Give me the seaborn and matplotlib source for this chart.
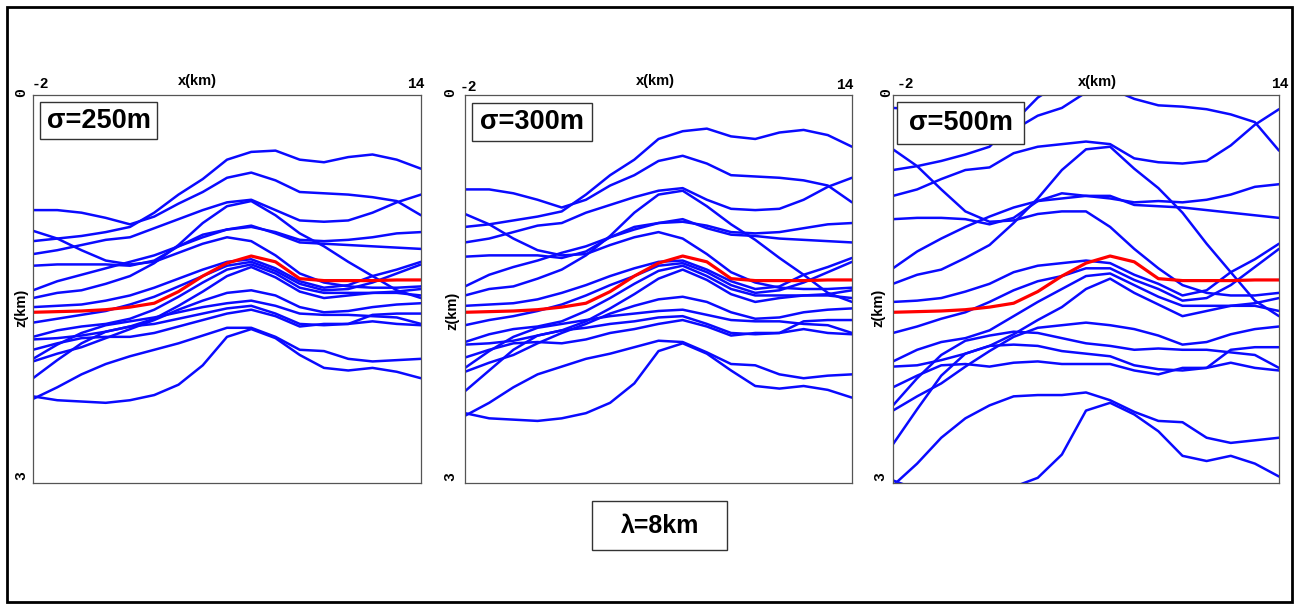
import matplotlib
matplotlib.use("Agg")
import matplotlib.pyplot as plt
from matplotlib.patches import Rectangle
from matplotlib.font_manager import FontProperties
import pandas as pd
import seaborn as sns

sns.set_style("white")
plt.rcParams["font.family"] = ["Liberation Sans", "DejaVu Sans"]
plt.rcParams["text.color"] = "black"

# x positions of the picked points (km)
x_km = [-2, -1, 0, 1, 2, 3, 4, 5, 6, 7, 8, 9, 10, 11, 12, 13, 14]

# true reflector (red), same in every panel
red_z = [1.68, 1.675, 1.67, 1.66, 1.64, 1.61, 1.52, 1.40, 1.30, 1.245, 1.29, 1.42, 1.435, 1.435, 1.435, 1.43, 1.43]

# blue reflectors, depth in km, one list per curve
sigma250 = [
    [1.13, 1.11, 1.09, 1.06, 1.02, 0.91, 0.77, 0.65, 0.50, 0.44, 0.43, 0.50, 0.52, 0.48, 0.46, 0.50, 0.57],
    [0.89, 0.89, 0.91, 0.95, 1.00, 0.94, 0.84, 0.75, 0.64, 0.60, 0.66, 0.75, 0.76, 0.77, 0.79, 0.82, 0.93],
    [1.23, 1.20, 1.16, 1.12, 1.10, 1.03, 0.96, 0.89, 0.83, 0.81, 0.89, 0.97, 0.98, 0.97, 0.91, 0.83, 0.77],
    [1.57, 1.53, 1.51, 1.46, 1.40, 1.30, 1.16, 0.99, 0.86, 0.82, 0.93, 1.07, 1.17, 1.29, 1.40, 1.51, 1.57],
    [1.51, 1.44, 1.39, 1.34, 1.29, 1.24, 1.17, 1.10, 1.04, 1.02, 1.06, 1.12, 1.13, 1.12, 1.10, 1.07, 1.06],
    [1.32, 1.31, 1.31, 1.31, 1.32, 1.28, 1.17, 1.08, 1.04, 1.01, 1.07, 1.14, 1.15, 1.16, 1.17, 1.18, 1.19],
    [1.05, 1.11, 1.20, 1.28, 1.31, 1.29, 1.22, 1.15, 1.10, 1.13, 1.24, 1.38, 1.45, 1.48, 1.49, 1.49, 1.48],
    [1.64, 1.63, 1.62, 1.59, 1.55, 1.49, 1.42, 1.35, 1.29, 1.27, 1.34, 1.44, 1.49, 1.47, 1.40, 1.35, 1.29],
    [1.76, 1.73, 1.70, 1.67, 1.62, 1.56, 1.48, 1.40, 1.32, 1.29, 1.36, 1.46, 1.51, 1.50, 1.45, 1.38, 1.31],
    [1.87, 1.82, 1.79, 1.77, 1.73, 1.66, 1.56, 1.45, 1.35, 1.31, 1.38, 1.49, 1.53, 1.53, 1.53, 1.53, 1.55],
    [1.89, 1.88, 1.86, 1.83, 1.79, 1.73, 1.63, 1.52, 1.40, 1.33, 1.41, 1.52, 1.57, 1.55, 1.53, 1.52, 1.50],
    [2.06, 2.00, 1.95, 1.88, 1.81, 1.74, 1.66, 1.59, 1.53, 1.51, 1.55, 1.64, 1.68, 1.67, 1.64, 1.62, 1.61],
    [2.04, 1.93, 1.84, 1.78, 1.75, 1.72, 1.68, 1.64, 1.61, 1.59, 1.63, 1.69, 1.70, 1.70, 1.71, 1.72, 1.77],
    [2.19, 2.05, 1.92, 1.83, 1.79, 1.77, 1.73, 1.69, 1.65, 1.63, 1.69, 1.77, 1.78, 1.77, 1.70, 1.69, 1.69],
    [1.97, 1.92, 1.88, 1.87, 1.87, 1.84, 1.79, 1.74, 1.69, 1.66, 1.71, 1.79, 1.77, 1.77, 1.75, 1.77, 1.78],
    [2.33, 2.36, 2.37, 2.38, 2.36, 2.32, 2.24, 2.09, 1.87, 1.81, 1.88, 2.01, 2.11, 2.13, 2.11, 2.14, 2.19],
    [2.35, 2.26, 2.16, 2.08, 2.02, 1.97, 1.92, 1.86, 1.80, 1.80, 1.87, 1.97, 1.98, 2.04, 2.06, 2.05, 2.04],
]

sigma300 = [
    [1.02, 1.00, 0.97, 0.94, 0.90, 0.77, 0.62, 0.50, 0.34, 0.28, 0.26, 0.32, 0.34, 0.29, 0.27, 0.31, 0.40],
    [0.73, 0.73, 0.76, 0.81, 0.87, 0.81, 0.70, 0.62, 0.51, 0.47, 0.53, 0.62, 0.63, 0.64, 0.66, 0.70, 0.83],
    [1.14, 1.11, 1.06, 1.01, 0.99, 0.91, 0.85, 0.79, 0.74, 0.72, 0.81, 0.88, 0.89, 0.88, 0.81, 0.71, 0.64],
    [1.55, 1.50, 1.48, 1.42, 1.35, 1.24, 1.09, 0.91, 0.77, 0.74, 0.86, 1.00, 1.12, 1.26, 1.39, 1.53, 1.60],
    [1.48, 1.39, 1.33, 1.28, 1.22, 1.17, 1.10, 1.04, 0.99, 0.98, 1.01, 1.06, 1.07, 1.06, 1.03, 1.00, 0.99],
    [1.25, 1.24, 1.24, 1.24, 1.26, 1.21, 1.10, 1.02, 0.99, 0.96, 1.03, 1.08, 1.09, 1.11, 1.12, 1.13, 1.14],
    [0.92, 1.00, 1.11, 1.20, 1.24, 1.23, 1.16, 1.10, 1.06, 1.11, 1.23, 1.37, 1.45, 1.49, 1.50, 1.50, 1.49],
    [1.63, 1.62, 1.61, 1.58, 1.53, 1.47, 1.40, 1.34, 1.29, 1.28, 1.35, 1.44, 1.50, 1.48, 1.39, 1.33, 1.26],
    [1.78, 1.74, 1.71, 1.67, 1.62, 1.55, 1.47, 1.40, 1.32, 1.30, 1.37, 1.47, 1.53, 1.51, 1.45, 1.37, 1.29],
    [1.91, 1.85, 1.81, 1.79, 1.75, 1.67, 1.57, 1.46, 1.36, 1.32, 1.40, 1.50, 1.55, 1.55, 1.55, 1.55, 1.57],
    [1.93, 1.92, 1.90, 1.86, 1.82, 1.75, 1.65, 1.54, 1.42, 1.35, 1.43, 1.54, 1.60, 1.57, 1.55, 1.54, 1.51],
    [2.14, 2.07, 2.01, 1.92, 1.84, 1.77, 1.69, 1.63, 1.58, 1.56, 1.60, 1.68, 1.73, 1.72, 1.68, 1.66, 1.65],
    [2.11, 1.98, 1.87, 1.80, 1.77, 1.74, 1.71, 1.69, 1.67, 1.66, 1.70, 1.74, 1.75, 1.75, 1.77, 1.78, 1.84],
    [2.29, 2.13, 1.97, 1.86, 1.82, 1.80, 1.77, 1.75, 1.72, 1.71, 1.77, 1.84, 1.85, 1.84, 1.75, 1.74, 1.74],
    [2.03, 1.97, 1.92, 1.91, 1.92, 1.89, 1.84, 1.81, 1.77, 1.74, 1.79, 1.86, 1.84, 1.84, 1.81, 1.84, 1.85],
    [2.46, 2.50, 2.51, 2.52, 2.50, 2.46, 2.38, 2.23, 1.98, 1.92, 2.00, 2.13, 2.25, 2.27, 2.25, 2.28, 2.34],
    [2.48, 2.38, 2.26, 2.16, 2.10, 2.04, 2.00, 1.95, 1.90, 1.91, 1.99, 2.08, 2.09, 2.16, 2.19, 2.17, 2.16],
]

sigma500 = [
    [0.58, 0.55, 0.51, 0.46, 0.40, 0.21, 0.02, -0.10, -0.30, -0.37, -0.43, -0.42, -0.40, -0.48, -0.52, -0.43, -0.29],
    [0.10, 0.11, 0.15, 0.24, 0.36, 0.27, 0.16, 0.10, -0.02, -0.05, 0.03, 0.08, 0.09, 0.11, 0.15, 0.21, 0.43],
    [0.78, 0.73, 0.65, 0.58, 0.56, 0.45, 0.40, 0.38, 0.36, 0.38, 0.49, 0.52, 0.53, 0.51, 0.39, 0.23, 0.11],
    [1.46, 1.39, 1.35, 1.26, 1.16, 0.99, 0.80, 0.58, 0.42, 0.40, 0.57, 0.72, 0.91, 1.15, 1.37, 1.59, 1.71],
    [1.34, 1.21, 1.11, 1.02, 0.94, 0.87, 0.82, 0.80, 0.78, 0.80, 0.83, 0.82, 0.83, 0.81, 0.77, 0.71, 0.69],
    [0.96, 0.95, 0.95, 0.96, 1.00, 0.95, 0.82, 0.76, 0.78, 0.78, 0.85, 0.86, 0.87, 0.89, 0.91, 0.93, 0.95],
    [0.42, 0.55, 0.73, 0.90, 0.98, 0.97, 0.92, 0.90, 0.90, 1.02, 1.19, 1.34, 1.47, 1.53, 1.55, 1.55, 1.53],
    [1.60, 1.59, 1.57, 1.52, 1.46, 1.37, 1.32, 1.30, 1.28, 1.30, 1.39, 1.46, 1.55, 1.51, 1.37, 1.27, 1.15],
    [1.84, 1.79, 1.73, 1.68, 1.60, 1.51, 1.44, 1.40, 1.34, 1.34, 1.43, 1.50, 1.59, 1.57, 1.47, 1.33, 1.19],
    [2.06, 1.97, 1.91, 1.88, 1.82, 1.71, 1.60, 1.50, 1.40, 1.38, 1.47, 1.56, 1.63, 1.63, 1.63, 1.63, 1.67],
    [2.10, 2.09, 2.05, 2.00, 1.94, 1.85, 1.74, 1.64, 1.50, 1.42, 1.53, 1.62, 1.71, 1.67, 1.63, 1.61, 1.57],
    [2.44, 2.33, 2.23, 2.10, 1.98, 1.87, 1.80, 1.78, 1.76, 1.78, 1.81, 1.86, 1.93, 1.91, 1.85, 1.81, 1.79],
    [2.40, 2.19, 2.01, 1.90, 1.86, 1.83, 1.84, 1.88, 1.92, 1.94, 1.97, 1.96, 1.97, 1.97, 1.99, 2.01, 2.11],
    [2.70, 2.43, 2.17, 2.00, 1.94, 1.93, 1.94, 1.98, 2.00, 2.02, 2.09, 2.12, 2.13, 2.11, 1.97, 1.95, 1.95],
    [2.26, 2.17, 2.09, 2.08, 2.10, 2.07, 2.06, 2.08, 2.08, 2.08, 2.13, 2.16, 2.11, 2.11, 2.07, 2.11, 2.13],
    [2.98, 3.05, 3.07, 3.10, 3.08, 3.03, 2.96, 2.78, 2.44, 2.38, 2.47, 2.60, 2.79, 2.83, 2.79, 2.85, 2.95],
    [3.02, 2.85, 2.65, 2.50, 2.40, 2.33, 2.32, 2.32, 2.30, 2.36, 2.45, 2.52, 2.53, 2.65, 2.69, 2.67, 2.65],
]

panel_titles = ["σ=250m", "σ=300m", "σ=500m"]
x_ticks = ["-2", "14"]
z_ticks = ["0", "3"]
bottom_label = "λ=8km"

W, H = 1299, 609
fig = plt.figure(figsize=(W / 100, H / 100), dpi=100)


def fx(x):
    return x / W


def fy(y):
    return 1 - y / H


mono = FontProperties(family=["Liberation Mono", "DejaVu Sans Mono"], weight="bold", size=10.5)

# pixel layout of the three panels (left, top, right, bottom)
axes_px = [(33, 95, 421, 483), (465, 95, 852, 483), (893, 95, 1279, 483)]
# pixel centres: "0", "3", "z(km)", "-2", "14", "x(km)"
labels_px = [
    [(21, 93), (21, 476), (21, 308), (40, 84), (416, 84), (197, 81)],
    [(450, 93), (450, 477), (452, 311), (468, 87), (845, 85), (655, 81)],
    [(886, 93), (880, 477), (878, 308), (905, 84), (1280, 84), (1097, 82)],
]
title_box_px = [(40, 102, 157, 139), (472, 103, 592, 141), (897, 102, 1024, 144)]

for i, curves in enumerate([sigma250, sigma300, sigma500]):
    l, t, r, b = axes_px[i]
    ax = fig.add_axes([fx(l), fy(b), (r - l) / W, (b - t) / H])
    rows = []
    for k, zs in enumerate(curves):
        for xv, zv in zip(x_km, zs):
            rows.append({"curve": k, "x": xv, "z": zv})
    df = pd.DataFrame(rows)
    sns.lineplot(data=df, x="x", y="z", units="curve", estimator=None,
                 color="#0a0aff", linewidth=1.8, sort=False, ax=ax)
    sns.lineplot(x=x_km, y=red_z, color="#ff0000", linewidth=2.3, sort=False, ax=ax)
    ax.set_xlim(-2, 14)
    ax.set_ylim(3, 0)
    ax.set_xticks([])
    ax.set_yticks([])
    ax.set_xlabel("")
    ax.set_ylabel("")
    for s in ax.spines.values():
        s.set_color("#555555")
        s.set_linewidth(0.9)

    p0, p3, pz, pm2, p14, pxl = labels_px[i]
    fig.text(fx(p0[0]), fy(p0[1]), z_ticks[0], rotation=90, ha="center", va="center", fontproperties=mono)
    fig.text(fx(p3[0]), fy(p3[1]), z_ticks[1], rotation=90, ha="center", va="center", fontproperties=mono)
    fig.text(fx(pm2[0]), fy(pm2[1]), x_ticks[0], ha="center", va="center", fontproperties=mono)
    fig.text(fx(p14[0]), fy(p14[1]), x_ticks[1], ha="center", va="center", fontproperties=mono)
    fig.text(fx(pz[0]), fy(pz[1]), "z(km)", rotation=90, ha="center", va="center",
             fontweight="bold", fontsize=10.5, color="black")
    fig.text(fx(pxl[0]), fy(pxl[1]), "x(km)", ha="center", va="center",
             fontweight="bold", fontsize=10.5, color="black")

    bl, bt, br, bb = title_box_px[i]
    fig.patches.append(Rectangle((fx(bl), fy(bb)), (br - bl) / W, (bb - bt) / H,
                                 transform=fig.transFigure, facecolor="white",
                                 edgecolor="#333333", linewidth=1.0, zorder=5))
    fig.text(fx((bl + br) / 2), fy((bt + bb) / 2), panel_titles[i], ha="center",
             va="center", fontweight="bold", fontsize=19.5, color="black", zorder=6)

# lambda box under the middle panel
fig.patches.append(Rectangle((fx(592), fy(550)), 135 / W, 49 / H, transform=fig.transFigure,
                             facecolor="white", edgecolor="#333333", linewidth=1.0))
fig.text(fx(660), fy(526), bottom_label, ha="center", va="center", fontweight="bold",
         fontsize=18, color="black")

# outer frame
fig.patches.append(Rectangle((fx(7), fy(602)), 1285 / W, 595 / H, transform=fig.transFigure,
                             facecolor="none", edgecolor="black", linewidth=2.0))

fig.savefig("out.png", dpi=100)
